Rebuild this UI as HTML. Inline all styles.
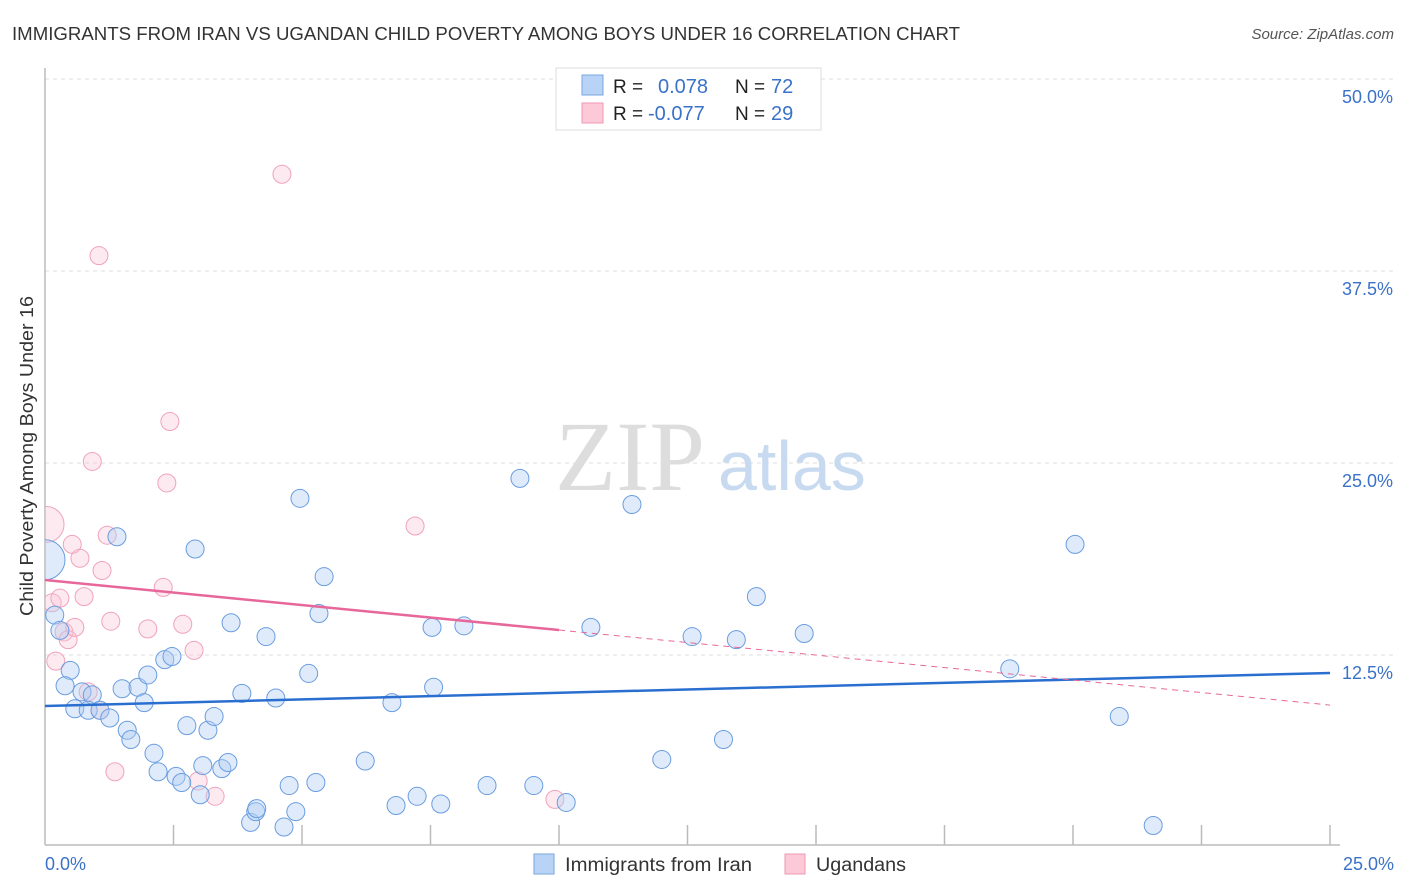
<!DOCTYPE html>
<html><head><meta charset="utf-8"><style>
body{margin:0;background:#fff;font-family:"Liberation Sans",sans-serif;}
#c{position:absolute;left:0;top:0;}
</style></head><body>
<svg id="c" width="1406" height="892" xmlns="http://www.w3.org/2000/svg">
<defs><clipPath id="plotclip"><rect x="45" y="60" width="1360" height="786"/></clipPath></defs>
<text x="12" y="40" font-size="18" fill="#333" textLength="948" lengthAdjust="spacingAndGlyphs">IMMIGRANTS FROM IRAN VS UGANDAN CHILD POVERTY AMONG BOYS UNDER 16 CORRELATION CHART</text>
<text x="1394" y="39" font-size="15" fill="#555" font-style="italic" text-anchor="end">Source: ZipAtlas.com</text>
<g id="grid"></g>
<text x="555" y="490" font-size="100" fill="#ddd" font-family="Liberation Serif">ZIP</text>
<text x="718" y="490" font-size="70" fill="#c8daf0">atlas</text>
<g id="ticks"></g>
<line x1="45" y1="68" x2="45" y2="845" stroke="#bbb" stroke-width="1.5"/>
<line x1="45" y1="845" x2="1340" y2="845" stroke="#bbb" stroke-width="1.5"/>
<g id="ylabels"></g>
<text x="45" y="870" font-size="18" fill="#3a72c8">0.0%</text>
<text x="1394" y="870" font-size="18" fill="#3a72c8" text-anchor="end">25.0%</text>
<text transform="translate(33,456) rotate(-90)" font-size="18" fill="#333" text-anchor="middle" textLength="320" lengthAdjust="spacingAndGlyphs">Child Poverty Among Boys Under 16</text>
<g clip-path="url(#plotclip)">
<g id="pink"></g>
<g id="blue"></g>
</g>
<g id="trends"></g>
<g>
<rect x="556" y="68" width="265" height="62" fill="#fff" stroke="#ddd"/>
<rect x="582" y="75" width="21" height="20" fill="#b8d3f5" stroke="#7aa7e0"/>
<rect x="582" y="103" width="21" height="20" fill="#fcc9d8" stroke="#ee98b3"/>
<text x="613" y="93" font-size="19" fill="#222">R =</text>
<text x="658" y="93" font-size="20" fill="#3a72c8">0.078</text>
<text x="735" y="93" font-size="19" fill="#222">N =</text>
<text x="771" y="93" font-size="20" fill="#3a72c8">72</text>
<text x="613" y="120" font-size="19" fill="#222">R =</text>
<text x="648" y="120" font-size="20" fill="#3a72c8">-0.077</text>
<text x="735" y="120" font-size="19" fill="#222">N =</text>
<text x="771" y="120" font-size="20" fill="#3a72c8">29</text>
</g>
<g>
<rect x="534" y="854" width="20" height="20" fill="#b8d3f5" stroke="#7aa7e0"/>
<text x="565" y="871" font-size="19" fill="#333" textLength="187" lengthAdjust="spacingAndGlyphs">Immigrants from Iran</text>
<rect x="785" y="854" width="20" height="20" fill="#fcc9d8" stroke="#ee98b3"/>
<text x="816" y="871" font-size="19" fill="#333" textLength="90" lengthAdjust="spacingAndGlyphs">Ugandans</text>
</g>
</svg>
<script>
const yTicks=[12.5,25,37.5,50];
const yTickLabels=["12.5%","25.0%","37.5%","50.0%"];
const xTicks=[2.5,5,7.5,10,12.5,15,17.5,20,22.5,25];
const blueX=[0,0.19,0.29,0.49,0.39,0.72,0.92,0.58,0.84,1.07,1.26,1.4,1.5,1.81,2.0,1.93,1.6,1.67,2.12,2.2,2.33,2.47,2.55,2.66,2.92,2.76,3.02,3.07,3.17,3.29,3.44,3.56,3.62,3.83,4.0,4.1,4.12,4.3,4.49,4.65,4.75,4.88,4.96,5.13,5.27,5.33,5.43,6.23,6.75,6.83,7.24,7.53,7.56,7.7,8.15,8.6,9.24,9.51,10.14,10.62,11.42,12.0,12.59,13.2,13.45,13.84,14.77,18.77,20.04,20.9,21.56];
const blueY=[18.7,15.1,14.1,11.5,10.5,10.1,9.9,9.0,8.9,8.9,8.4,20.2,10.3,10.4,11.2,9.4,7.6,7.0,6.1,4.9,12.2,12.4,4.6,4.2,19.4,7.9,3.4,5.3,7.6,8.5,5.1,5.5,14.6,10.0,1.6,2.3,2.5,13.7,9.7,1.3,4.0,2.3,22.7,11.3,4.2,15.2,17.6,5.6,9.4,2.7,3.3,14.3,10.4,2.8,14.4,4.0,24.0,4.0,2.9,14.3,22.3,5.7,13.7,7.0,13.5,16.3,13.9,11.6,19.7,8.5,1.4];
const pinkX=[0.02,0.14,0.29,0.21,0.37,0.45,0.53,0.58,0.68,0.76,0.92,1.05,1.11,0.84,1.21,1.28,1.36,2.0,2.3,2.37,2.43,2.68,2.9,2.98,3.31,4.61,7.2,9.92,1.07];
const pinkY=[21.0,15.9,16.2,12.1,14.0,13.5,19.7,14.3,18.8,16.3,25.1,38.5,18.0,10.1,20.3,14.7,4.9,14.2,16.9,23.7,27.7,14.5,12.8,4.3,3.3,43.8,20.9,3.1,8.9];
const blueTrend=[9.18,11.33];
const pinkTrend=[17.38,9.24];
const pinkSolidEnd=10;
const X=v=>45+v/25*1285, Y=v=>847-v/12.5*192;
const NS="http://www.w3.org/2000/svg";
function mk(t,a,p){const e=document.createElementNS(NS,t);for(const k in a)e.setAttribute(k,a[k]);p.appendChild(e);return e;}
const grid=document.getElementById('grid'),yl=document.getElementById('ylabels'),tk=document.getElementById('ticks');
yTicks.forEach((v,i)=>{
 const l=mk('line',{x1:45,x2:1394,y1:Y(v),y2:Y(v),stroke:'#ddd','stroke-dasharray':'4,4'},grid);
 
 
 const t=mk('text',{x:1393,y:Y(v)+24,'font-size':18,fill:'#3a72c8','text-anchor':'end'},yl);
 t.textContent=yTickLabels[i];
 
 
});
xTicks.forEach(v=>{
 const l=mk('line',{x1:X(v),x2:X(v),y1:825,y2:845,stroke:'#bbb','stroke-width':1.5},tk);
 
 
});
function pts(xs,ys,g,fill,stroke,name){
 xs.forEach((x,i)=>{
  const r=(i===0)?(name==='iran-point'?20:18):9;
  const c=mk('circle',{cx:X(x),cy:Y(ys[i]),r:r,fill:fill,stroke:stroke,'stroke-width':1},g);
  
  
 });
}
pts(pinkX,pinkY,document.getElementById('pink'),'rgba(250,195,212,0.35)','#f0a3bb','ugandan-point');
pts(blueX,blueY,document.getElementById('blue'),'rgba(175,205,242,0.4)','#6a9de0','iran-point');
const tr=document.getElementById('trends');
const bl=mk('line',{x1:X(0),y1:Y(blueTrend[0]),x2:X(25),y2:Y(blueTrend[1]),stroke:'#2a6fd0','stroke-width':2.5},tr);


const py=x=>pinkTrend[0]+(pinkTrend[1]-pinkTrend[0])*x/25;
const ps=mk('line',{x1:X(0),y1:Y(py(0)),x2:X(pinkSolidEnd),y2:Y(py(pinkSolidEnd)),stroke:'#e8679a','stroke-width':2.5},tr);


const pd=mk('line',{x1:X(pinkSolidEnd),y1:Y(py(pinkSolidEnd)),x2:X(25),y2:Y(py(25)),stroke:'#e8679a','stroke-width':1,'stroke-dasharray':'6,5'},tr);


</script>
</body></html>
